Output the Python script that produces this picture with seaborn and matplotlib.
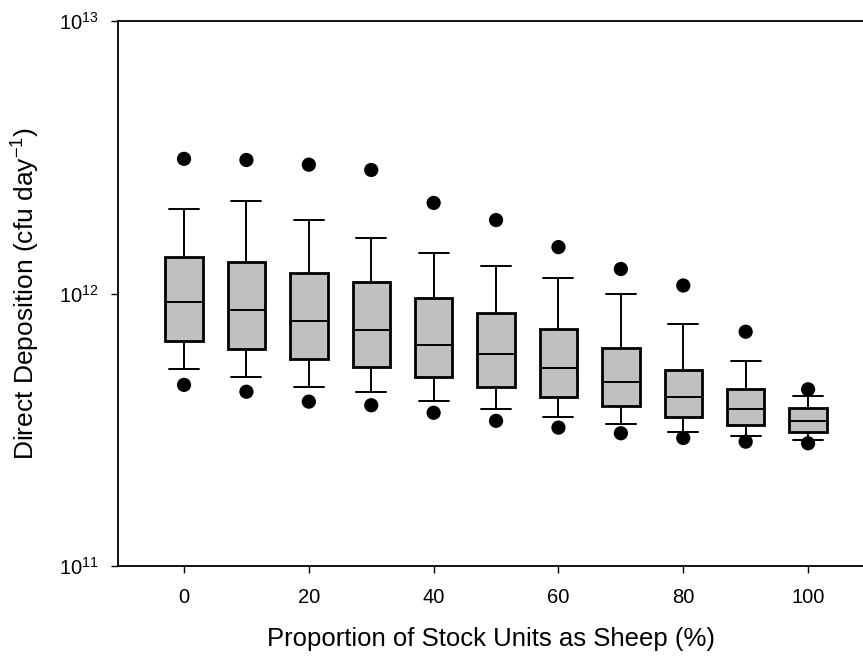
"""Direct deposition vs proportion of stock units as sheep (box plots, log scale)."""
import numpy as np
import pandas as pd
import matplotlib
matplotlib.use('Agg')
import matplotlib.pyplot as plt
import seaborn as sns

# values (cfu day^-1)
sheep_pct = [0, 10, 20, 30, 40, 50, 60, 70, 80, 90, 100]
whisker_lo = [5.27e11, 4.95e11, 4.55e11, 4.36e11, 4.04e11, 3.76e11, 3.53e11, 3.33e11, 3.11e11, 2.99e11, 2.91e11]
q1 = [6.71e11, 6.26e11, 5.76e11, 5.39e11, 4.95e11, 4.55e11, 4.18e11, 3.87e11, 3.52e11, 3.30e11, 3.10e11]
median = [9.33e11, 8.70e11, 7.95e11, 7.35e11, 6.47e11, 5.98e11, 5.31e11, 4.75e11, 4.18e11, 3.78e11, 3.41e11]
q3 = [1.36e12, 1.31e12, 1.19e12, 1.10e12, 9.65e11, 8.50e11, 7.39e11, 6.32e11, 5.26e11, 4.45e11, 3.79e11]
whisker_hi = [2.04e12, 2.19e12, 1.86e12, 1.60e12, 1.41e12, 1.26e12, 1.14e12, 9.96e11, 7.73e11, 5.65e11, 4.20e11]
outlier_lo = [4.62e11, 4.36e11, 4.01e11, 3.89e11, 3.65e11, 3.41e11, 3.22e11, 3.07e11, 2.95e11, 2.86e11, 2.82e11]
outlier_hi = [3.12e12, 3.09e12, 2.97e12, 2.84e12, 2.15e12, 1.86e12, 1.48e12, 1.23e12, 1.07e12, 7.24e11, 4.45e11]

# five summary values per group -> whis=(0, 100) reproduces the box exactly
rows = []
for i, p in enumerate(sheep_pct):
    for v in (whisker_lo[i], q1[i], median[i], q3[i], whisker_hi[i]):
        rows.append({'sheep': p, 'deposition': v})
df = pd.DataFrame(rows)
out_df = pd.DataFrame({'sheep': sheep_pct + sheep_pct,
                       'deposition': outlier_lo + outlier_hi})

sns.set_theme(style='ticks')
plt.rcParams['font.family'] = ['Liberation Sans', 'DejaVu Sans']
plt.rcParams['mathtext.fontset'] = 'custom'
plt.rcParams['mathtext.rm'] = 'Liberation Sans'
plt.rcParams['mathtext.it'] = 'Liberation Sans:italic'
# plain black text like the original
for key in ['text.color', 'axes.labelcolor', 'xtick.color', 'ytick.color']:
    plt.rcParams[key] = 'black'

fig = plt.figure(figsize=(8.63, 6.57), dpi=100)
ax = fig.add_axes([118 / 863, 1 - 566 / 657, 1 - 118 / 863, (566 - 21) / 657])
ax.set_yscale('log')

sns.boxplot(data=df, x='sheep', y='deposition', native_scale=True,
            whis=(0, 100), width=0.6, color='#c0c0c0', linecolor='black',
            linewidth=1.4, fliersize=0, saturation=1, ax=ax,
            boxprops={'linewidth': 2.0}, capwidths=4.8)
sns.scatterplot(data=out_df, x='sheep', y='deposition', color='black',
                s=105, edgecolor='none', legend=False, ax=ax, zorder=5)

ax.set_xlim(-10.58, 108.8)
ax.set_ylim(1e11, 1e13)
ax.set_xticks([0, 20, 40, 60, 80, 100])
ax.set_yticks([1e11, 1e12, 1e13])
ax.yaxis.set_minor_locator(matplotlib.ticker.NullLocator())

for side in ['left', 'bottom', 'top']:
    ax.spines[side].set_linewidth(1.3)
    ax.spines[side].set_color('black')
ax.spines['right'].set_visible(False)
ax.tick_params(axis='both', which='major', direction='out', length=5,
               width=1.0, color='black', labelcolor='black', labelsize=14.5, pad=9)
ax.tick_params(axis='x', top=False, pad=11)

ax.set_xlabel('Proportion of Stock Units as Sheep (%)', fontsize=18.5, labelpad=14)
ax.set_ylabel('Direct Deposition (cfu day$^{-1}$)', fontsize=19, labelpad=12)

fig.savefig('out.png', dpi=100)
